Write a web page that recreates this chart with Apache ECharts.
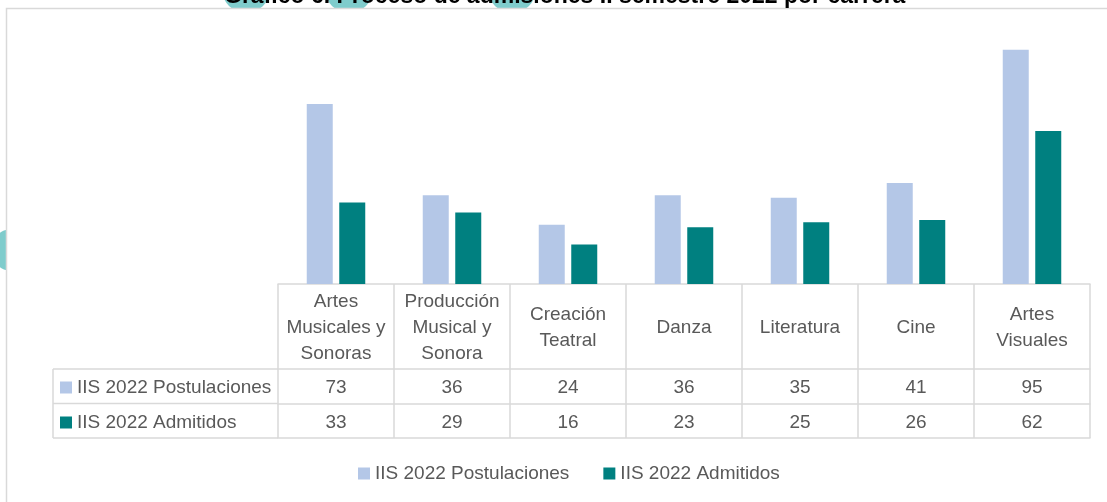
<!DOCTYPE html>
<html>
<head>
<meta charset="utf-8">
<script src="https://cdn.jsdelivr.net/npm/echarts@6/dist/echarts.min.js"></script>
<style>
  html, body { margin: 0; padding: 0; background: #fff; }
  #main { width: 1107px; height: 502px; }
</style>
</head>
<body>
<div id="main"></div>
<script>
  // datos del gráfico
  var carreras = ['Artes\nMusicales y\nSonoras', 'Producción\nMusical y\nSonora', 'Creación\nTeatral', 'Danza', 'Literatura', 'Cine', 'Artes\nVisuales'];
  var postulaciones = [73, 36, 24, 36, 35, 41, 95];
  var admitidos = [33, 29, 16, 23, 25, 26, 62];
  var serieNombres = ['IIS 2022 Postulaciones', 'IIS 2022 Admitidos'];
  var colores = ['#b4c7e7', '#008080'];

  var font = 'Liberation Sans';
  var gris = '#d9d9d9';
  var texto = '#595959';

  var chart = echarts.init(document.getElementById('main'));

  // lineas de la parte izquierda de la tabla
  var tablaIzq = [
    { type: 'line', shape: { x1: 53, y1: 369, x2: 278, y2: 369 } },
    { type: 'line', shape: { x1: 53, y1: 403.5, x2: 278, y2: 403.5 } },
    { type: 'line', shape: { x1: 53, y1: 438, x2: 278, y2: 438 } },
    { type: 'line', shape: { x1: 53, y1: 369, x2: 53, y2: 438 } }
  ].map(function (l) {
    l.style = { stroke: gris, lineWidth: 1.5 };
    l.z = 0;
    return l;
  });

  var legendaTexto = { fontFamily: font, fontSize: 19, color: texto };

  chart.setOption({
    backgroundColor: '#fff',
    animation: false,
    title: {
      text: 'Gráfico 6. Proceso de admisiones II semestre 2022 por carrera',
      left: 224,
      top: -15,
      padding: 0,
      textStyle: { fontFamily: font, fontSize: 23, fontWeight: 'bold', color: '#000' }
    },
    graphic: [
      // adornos circulares detras del marco
      { type: 'circle', shape: { cx: 246, cy: -11, r: 24 }, style: { fill: '#7fcccc' }, z: -3 },
      { type: 'circle', shape: { cx: 349, cy: -11, r: 24 }, style: { fill: '#7fcccc' }, z: -3 },
      { type: 'circle', shape: { cx: 512, cy: -11, r: 24 }, style: { fill: '#7fcccc' }, z: -3 },
      { type: 'circle', shape: { cx: 12, cy: 250, r: 21 }, style: { fill: '#7fcccc' }, z: -3 },
      // marco del grafico
      { type: 'rect', shape: { x: 6.5, y: 8.5, width: 1200, height: 600 },
        style: { fill: '#fff', stroke: gris, lineWidth: 1.5 }, z: -2 }
    ].concat(tablaIzq),
    legend: [
      {
        data: [serieNombres[0]],
        left: 60, top: 378, padding: 0,
        itemWidth: 12, itemHeight: 12, itemGap: 0,
        icon: 'rect',
        textStyle: legendaTexto
      },
      {
        data: [serieNombres[1]],
        left: 60, top: 413, padding: 0,
        itemWidth: 12, itemHeight: 12, itemGap: 0,
        icon: 'rect',
        textStyle: legendaTexto
      },
      {
        data: serieNombres,
        left: 358, top: 464, padding: 0,
        itemWidth: 12, itemHeight: 12, itemGap: 34,
        icon: 'rect',
        textStyle: legendaTexto
      }
    ],
    grid: { left: 278, right: 17, top: 37.4, bottom: 218 },
    xAxis: [
      {
        type: 'category',
        data: carreras,
        axisLine: { lineStyle: { color: gris, width: 1.5 } },
        axisTick: { show: true, interval: 0, length: 154, lineStyle: { color: gris, width: 1.5 } },
        axisLabel: {
          interval: 0, margin: 44, verticalAlign: 'middle',
          fontFamily: font, fontSize: 19, lineHeight: 26, color: texto
        }
      },
      {
        type: 'category',
        data: postulaciones.map(String),
        position: 'bottom', offset: 85,
        axisLine: { lineStyle: { color: gris, width: 1.5 } },
        axisTick: { show: false },
        axisLabel: { interval: 0, margin: 19, verticalAlign: 'middle', fontFamily: font, fontSize: 19, color: texto }
      },
      {
        type: 'category',
        data: admitidos.map(String),
        position: 'bottom', offset: 119.5,
        axisLine: { lineStyle: { color: gris, width: 1.5 } },
        axisTick: { show: false },
        axisLabel: { interval: 0, margin: 19, verticalAlign: 'middle', fontFamily: font, fontSize: 19, color: texto }
      },
      {
        type: 'category',
        data: carreras,
        position: 'bottom', offset: 154,
        axisLine: { lineStyle: { color: gris, width: 1.5 } },
        axisTick: { show: false },
        axisLabel: { show: false }
      }
    ],
    yAxis: { type: 'value', min: 0, max: 100, show: false },
    series: [
      {
        name: serieNombres[0], type: 'bar', data: postulaciones,
        barWidth: 26, barGap: '25%',
        itemStyle: { color: colores[0] }
      },
      {
        name: serieNombres[1], type: 'bar', data: admitidos,
        barWidth: 26, barGap: '25%',
        itemStyle: { color: colores[1] }
      }
    ]
  });
</script>
</body>
</html>
